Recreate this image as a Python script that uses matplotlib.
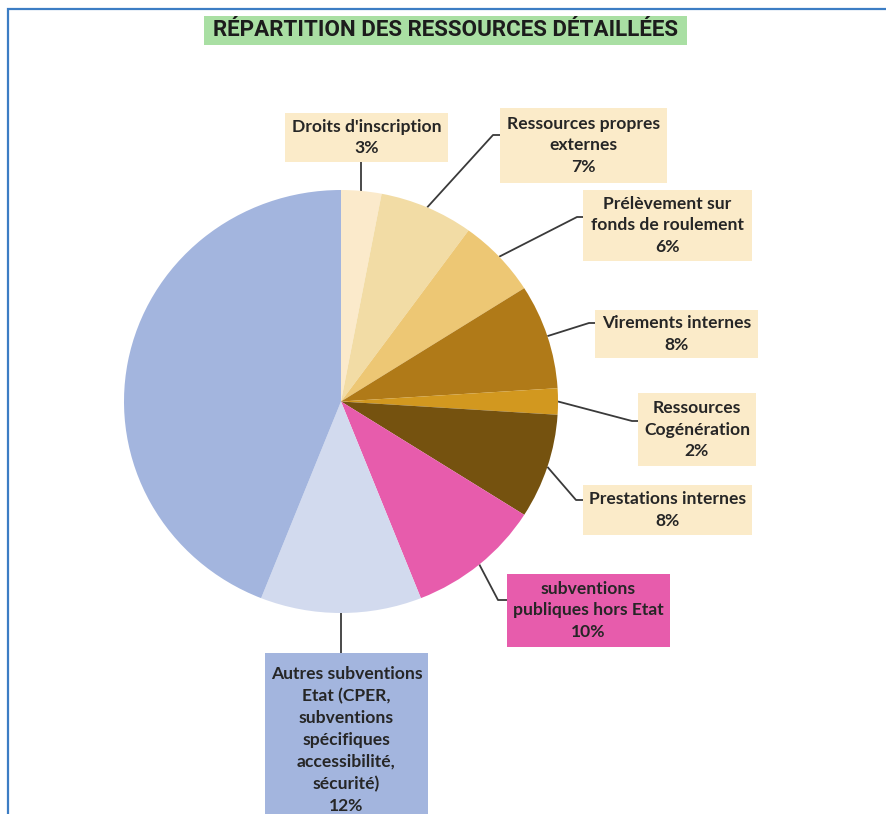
import numpy as np
import matplotlib
matplotlib.use("Agg")
import matplotlib.pyplot as plt
from matplotlib.patches import Rectangle

W, H = 887, 814

# Slices, clockwise from 12 o'clock
labels = [
    "Droits d'inscription",
    "Ressources propres\nexternes",
    "Prélèvement sur\nfonds de roulement",
    "Virements internes",
    "Ressources\nCogénération",
    "Prestations internes",
    "subventions\npubliques hors Etat",
    "Autres subventions\nEtat (CPER,\nsubventions\nspécifiques\naccessibilité,\nsécurité)",
    "Subvention pour\ncharge de service\npublic",
]
shares = [3, 7, 6, 8, 2, 8, 10, 12, 44]
colors = ["#FBEACB", "#F2DCA5", "#EDC774", "#B07A18", "#D2981F",
          "#75520F", "#E75CAC", "#D2DAEE", "#A3B5DE"]

# label boxes in pixel coords from the top-left: (x0, y0, x1, y1), face colour,
# and the elbow of the leader line ("down"/"up" = straight vertical line)
boxes = [
    ((285, 113, 448, 162), "#FBEBC9", "down"),
    ((500, 108, 667, 183), "#FBEBC9", (493, 135)),
    ((583, 190, 752, 261), "#FBEBC9", (577, 217)),
    ((595, 310, 758, 358), "#FBEBC9", (589, 323)),
    ((638, 393, 756, 466), "#FBEBC9", (632, 421)),
    ((583, 485, 752, 535), "#FBEBC9", (576, 500)),
    ((507, 574, 670, 647), "#E75CAC", (498, 600)),
    ((265, 653, 428, 840), "#A3B5DE", "up"),
    None,
]

# bounding box of the pie, pixels from the top-left
PIE_X0, PIE_X1, PIE_Y0, PIE_Y1 = 124, 558, 190, 613

plt.rcParams['font.family'] = ['Lato', 'DejaVu Sans']


def py(y):
    # pixel row (from top) -> data y
    return H - y


fig = plt.figure(figsize=(W / 100, H / 100), dpi=100)
ax = fig.add_axes([0, 0, 1, 1])
ax.set_xlim(0, W)
ax.set_ylim(0, H)
ax.axis('off')

pax = fig.add_axes([PIE_X0 / W, py(PIE_Y1) / H,
                    (PIE_X1 - PIE_X0) / W, (PIE_Y1 - PIE_Y0) / H])
wedges, _ = pax.pie(shares, colors=colors, startangle=90, counterclock=False,
                    radius=1, wedgeprops=dict(linewidth=0))
pax.set_aspect('auto')
pax.set_xlim(-1, 1)
pax.set_ylim(-1, 1)
pax.axis('off')
fig.canvas.draw()

line_kw = dict(color="#3a3a3a", lw=1.3, solid_capstyle='butt', zorder=3)
text_kw = dict(ha='center', va='center', fontsize=12.6, fontweight='bold',
               color="#262626", linespacing=1.45, zorder=5)

to_main = pax.transData + ax.transData.inverted()

for w, lab, val, spec in zip(wedges, labels, shares, boxes):
    mid = np.deg2rad((w.theta1 + w.theta2) / 2)
    ax_, ay_ = to_main.transform((np.cos(mid), np.sin(mid)))
    text = f"{lab}\n{val}%"
    if spec is None:
        # largest slice carries its label inside
        ax.text(210, py(380), text, **text_kw)
        continue
    (x0, y0, x1, y1), fc, elbow = spec
    ax.add_patch(Rectangle((x0, py(y1)), x1 - x0, y1 - y0, facecolor=fc,
                           edgecolor='none', zorder=4))
    if elbow == "down":
        ax.plot([ax_, ax_], [ay_, py(y1)], **line_kw)
    elif elbow == "up":
        ax.plot([ax_, ax_], [ay_, py(y0)], **line_kw)
    else:
        ex, ey = elbow
        ax.plot([ax_, ex, x0], [ay_, py(ey), py(ey)], **line_kw)
    ty = (y0 + y1) / 2 if val != 12 else 740
    ax.text((x0 + x1) / 2, py(ty), text, **text_kw)

# title on a green band
ax.add_patch(Rectangle((204, py(45)), 483, 29, facecolor="#A9DFA3",
                       edgecolor='none', zorder=4))
ax.text(445.5, py(30.5), "RÉPARTITION DES RESSOURCES DÉTAILLÉES",
        ha='center', va='center', fontsize=16.1, fontweight='bold',
        family=['Roboto', 'DejaVu Sans'], color="#1c1c1c", zorder=5)

# frame lines along the left and top edges
ax.plot([8, 8, W], [0, py(9), py(9)], color="#3C7DC4", lw=1.6,
        solid_joinstyle='miter', zorder=6)

fig.savefig("out.png", dpi=100, facecolor="white")
